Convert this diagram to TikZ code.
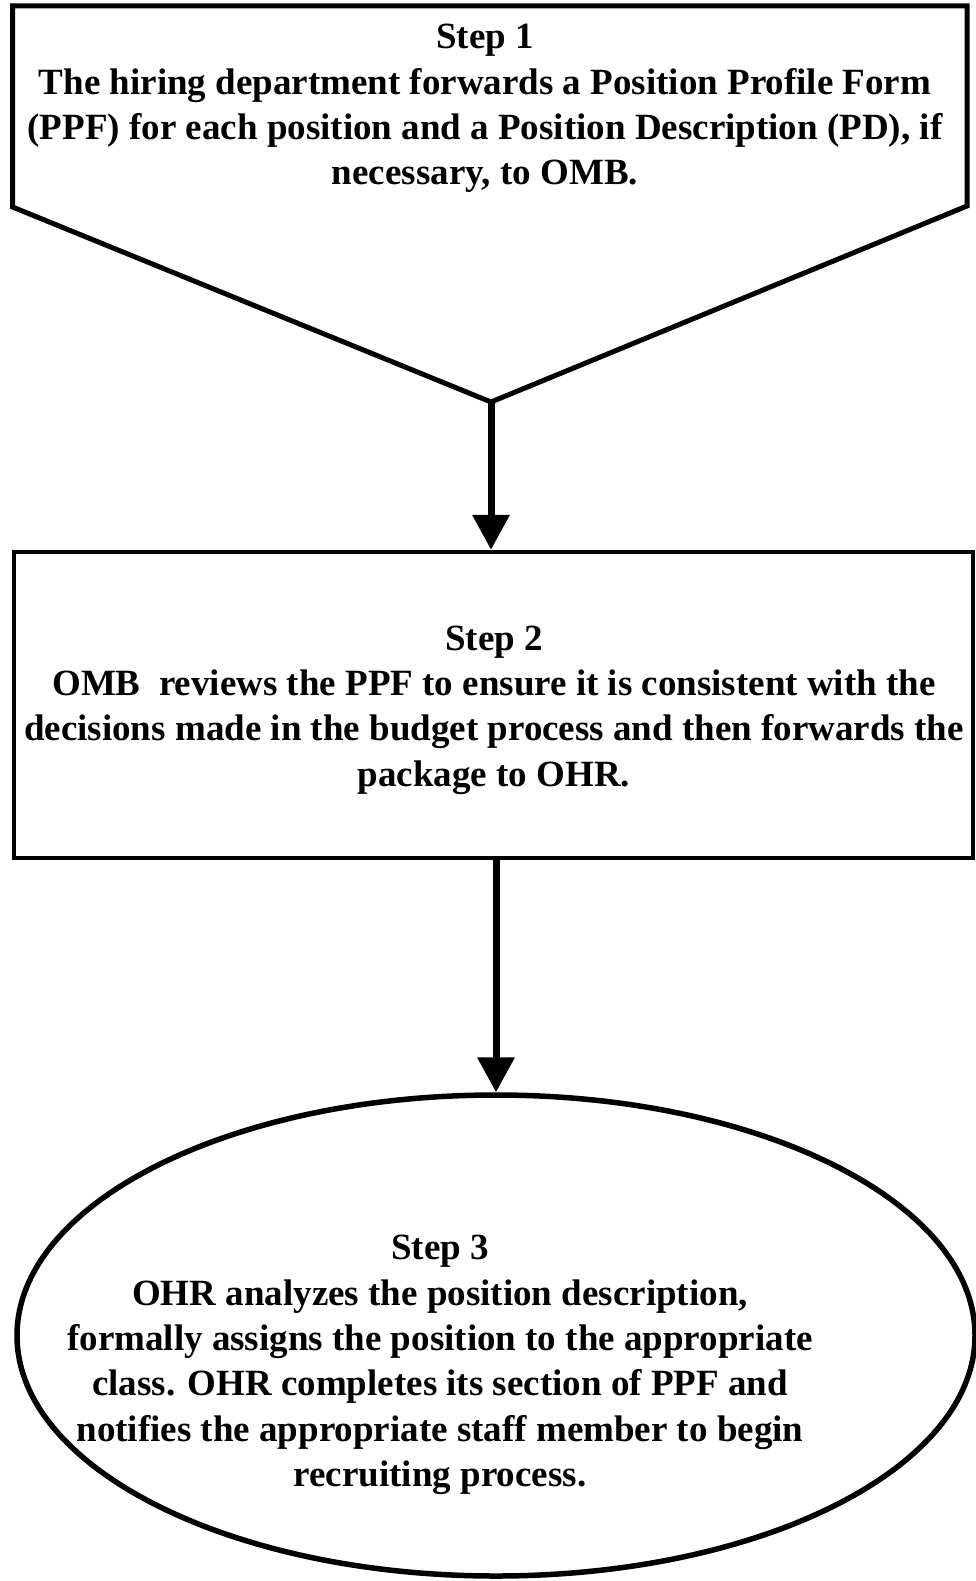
\documentclass[tikz,border=0pt]{standalone}
\usepackage{fontspec}
\setmainfont{Liberation Serif}
\usetikzlibrary{arrows.meta,shapes.geometric}
\tikzset{
  shapeline/.style={draw=black, line width=5pt, line join=miter},
  txt/.style={align=center, inner sep=0pt, font=\fontsize{37}{45.3}\selectfont\bfseries},
  flowarrow/.style={draw=black, line width=7pt, -{Triangle[length=35pt,width=36pt]}},
}
\begin{document}
\begin{tikzpicture}[x=1pt,y=-1pt]
\useasboundingbox (0,0) rectangle (976,1581);
% Step 1 pentagon
\coordinate (p1) at (12.5,6);
\coordinate (p2) at (967,6);
\coordinate (p3) at (967,206);
\coordinate (apex) at (491,402);
\coordinate (p5) at (12.5,207);
\draw[shapeline] (p1) -- (p2) -- (p3) -- (apex) -- (p5) -- cycle;
\node[txt] (s1) at (485,108.5) {Step 1\\The hiring department forwards a Position Profile Form\\(PPF) for each position and a Position Description (PD), if\\necessary, to OMB.};
% Step 2 box
\node[draw=black, line width=4.5pt, rectangle, minimum width=959pt, minimum height=306pt, inner sep=0pt] (box2) at (493.5,705) {};
\node[txt] (s2) at (494,710) {Step 2\\OMB\ \ reviews the PPF to ensure it is consistent with the\\decisions made in the budget process and then forwards the\\package to OHR.};
% Step 3 ellipse
\node[draw=black, line width=5.5pt, ellipse, minimum width=958pt, minimum height=481pt, inner sep=0pt] (e3) at (496,1335.5) {};
\node[txt] (s3) at (440,1365) {Step 3\\OHR analyzes the position description,\\formally assigns the position to the appropriate\\class. OHR completes its section of PPF and\\notifies the appropriate staff member to begin\\recruiting process.};
% connectors
\draw[flowarrow] (apex) -- (apex |- box2.north);
\draw[flowarrow] (e3.north |- box2.south) -- (e3.north);
\end{tikzpicture}
\end{document}
